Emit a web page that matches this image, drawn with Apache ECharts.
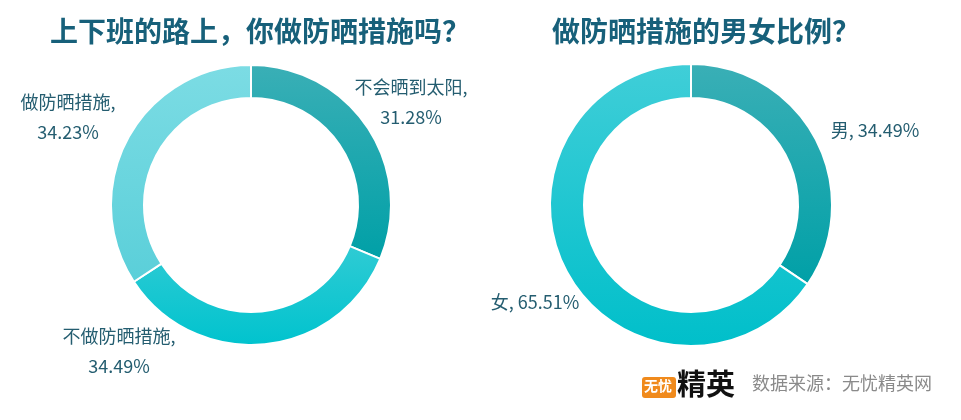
<!DOCTYPE html>
<html>
<head>
<meta charset="utf-8">
<script src="https://cdn.jsdelivr.net/npm/echarts@6/dist/echarts.min.js"></script>
<style>
html, body { margin: 0; padding: 0; background: #fff; }
#main { width: 961px; height: 420px; }
</style>
</head>
<body>
<div id="main"></div>
<script>
// 上下班的路上是否做防晒
const commuteNames = ['不会晒到太阳', '不做防晒措施', '做防晒措施']
const commuteValues = [31.28, 34.49, 34.23]
// 做防晒措施的男女比例
const genderNames = ['男', '女']
const genderValues = [34.49, 65.51]

const FONT = '"Noto Sans CJK SC", "Noto Sans", sans-serif'
const commuteColors = [['#3aafb6', '#00a0a7'], ['#2fcbd4', '#00c3ce'], ['#7cdce4', '#5acfd9']]
const genderColors = [['#3aafb6', '#00a0a7'], ['#40ced8', '#00bfca']]

const centers = [[251, 205], [691, 205]]
// label block offsets from each pie's centre (like the hand-placed labels in the original)
const labelOffsets = [
  [[160, -103], [-132, 146], [-183, -88]],
  [[184, -75], [-156, 97]]
]

function grad(pair) {
  return new echarts.graphic.LinearGradient(0, 0, 0, 1, [
    { offset: 0, color: pair[0] },
    { offset: 1, color: pair[1] }
  ])
}

function buildData(names, values, colors) {
  return names.map((n, i) => ({
    name: n,
    value: values[i],
    itemStyle: { color: grad(colors[i]) }
  }))
}

function layoutFor(seriesIdx) {
  return function (params) {
    const c = centers[seriesIdx]
    const off = labelOffsets[seriesIdx][params.dataIndex]
    return {
      x: c[0] + off[0],
      y: c[1] + off[1],
      align: 'center',
      verticalAlign: 'middle'
    }
  }
}

const labelStyle = {
  show: true,
  position: 'outside',
  color: '#245d70',
  fontSize: 18,
  lineHeight: 30,
  fontFamily: FONT,
  overflow: 'none',
  align: 'center'
}

const titleStyle = { color: '#17607a', fontSize: 28, fontWeight: 'bold', fontFamily: FONT }

const chart = echarts.init(document.getElementById('main'))
chart.setOption({
  animation: false,
  title: [
    { text: '上下班的路上，你做防晒措施吗？', left: 45, top: 12, textStyle: titleStyle },
    { text: '做防晒措施的男女比例？', left: 547, top: 12, textStyle: titleStyle }
  ],
  series: [
    {
      type: 'pie',
      center: centers[0],
      radius: [107, 140],
      startAngle: 90,
      clockwise: true,
      itemStyle: { borderColor: '#fff', borderWidth: 2 },
      label: Object.assign({}, labelStyle, {
        formatter: p => p.name + ',\n' + p.value.toFixed(2) + '%'
      }),
      labelLine: { show: false },
      labelLayout: layoutFor(0),
      data: buildData(commuteNames, commuteValues, commuteColors)
    },
    {
      type: 'pie',
      center: centers[1],
      radius: [107, 141],
      startAngle: 90,
      clockwise: true,
      itemStyle: { borderColor: '#fff', borderWidth: 2 },
      label: Object.assign({}, labelStyle, {
        formatter: p => p.name + ', ' + p.value.toFixed(2) + '%'
      }),
      labelLine: { show: false },
      labelLayout: layoutFor(1),
      data: buildData(genderNames, genderValues, genderColors)
    }
  ],
  graphic: [
    {
      type: 'rect',
      left: 642, top: 377,
      shape: { width: 34, height: 21, r: 3 },
      style: { fill: '#f08a1c' }
    },
    {
      type: 'text',
      left: 644, top: 379,
      style: { text: '无忧', fill: '#fff', font: 'bold 14px ' + FONT }
    },
    {
      type: 'text',
      left: 677, top: 369,
      style: { text: '精英', fill: '#111', font: 'bold 29px ' + FONT }
    },
    {
      type: 'text',
      left: 752, top: 374,
      style: { text: '数据来源：无忧精英网', fill: '#8a8a8a', font: '18px ' + FONT }
    }
  ]
})
</script>
</body>
</html>
